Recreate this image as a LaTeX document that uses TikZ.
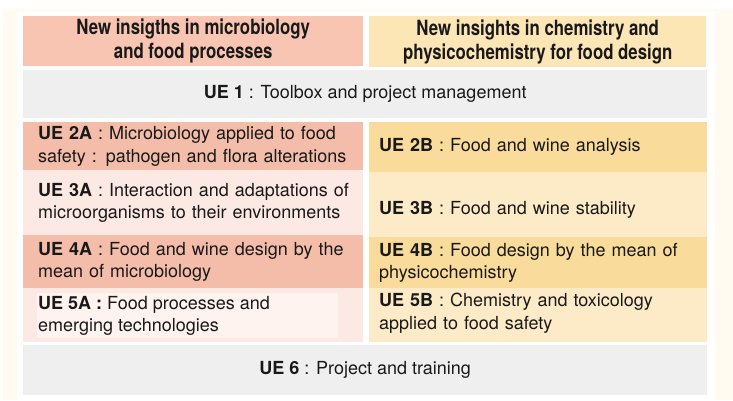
\documentclass[tikz,border=0pt]{standalone}
\usepackage{fontspec}
\setmainfont{TeX Gyre Heros}
\newfontfamily\headfont[FakeStretch=0.80]{TeX Gyre Heros}
\definecolor{cream}{RGB}{255,251,240}
\definecolor{salmonhead}{RGB}{247,197,178}
\definecolor{salmon}{RGB}{244,189,170}
\definecolor{pinklight}{RGB}{252,233,227}
\definecolor{pinkwhite}{RGB}{254,243,239}
\definecolor{sandhead}{RGB}{252,230,182}
\definecolor{sand}{RGB}{249,220,155}
\definecolor{sandlight}{RGB}{252,235,198}
\definecolor{greybox}{RGB}{239,239,239}
\newcommand\padleft[1]{\leftskip #1\relax}
\begin{document}
\begin{tikzpicture}[x=1pt,y=-1pt,
  every node/.style={font=\fontsize{18}{22.5}\selectfont, text=black!90},
  head/.style={anchor=north west, inner sep=0pt, align=center,
    font=\headfont\bfseries\fontsize{21}{24}\selectfont},
  cellA/.style={anchor=north west, inner sep=0pt,
    minimum width=340pt, text width=340pt, align=left,
    execute at begin node=\padleft{15pt}},
  cellB/.style={anchor=north west, inner sep=0pt,
    minimum width=338pt, text width=338pt, align=left,
    execute at begin node=\padleft{10pt}},
  wide/.style={anchor=north west, inner sep=0pt, minimum width=684pt, fill=greybox}]
\useasboundingbox (0,0) rectangle (733,400);
\fill[cream] (3,9) rectangle (733,400);
\fill[white] (17,12) rectangle (715,400);
% headings
\node[head, fill=salmonhead, minimum width=340pt, minimum height=50pt] (headA) at (23,16)
  {New insigths in microbiology\\and food processes};
\node[head, fill=sandhead, minimum width=337pt, minimum height=51pt] (headB) at (369,16)
  {New insights in chemistry and\\physicochemistry for food design};
\node[wide, minimum height=48pt] (ue1) at (23,70) {\textbf{UE 1} : Toolbox and project management};
% column A
\node[cellA, fill=salmon, minimum height=48pt] (ue2A) at (23,122)
  {\textbf{UE 2A} : Microbiology applied to food\\safety : pathogen and flora alterations};
\node[cellA, fill=pinklight, minimum height=65pt] (ue3A) at (23,170)
  {\textbf{UE 3A} : Interaction and adaptations of\\microorganisms to their environments};
\node[cellA, fill=salmon, minimum height=53pt] (ue4A) at (23,235)
  {\textbf{UE 4A} : Food and wine design by the\\mean of microbiology};
\node[cellA, fill=pinklight, minimum height=54pt] (ue5A) at (23,288) {};
\fill[pinkwhite] (37,293) rectangle (338,338);
\node[anchor=west, inner sep=0pt, align=left] (ue5Atext) at (38,316)
  {\textbf{UE 5A :} Food processes and\\emerging technologies};
% column B
\node[cellB, fill=sand, minimum height=50pt] (ue2B) at (369,122)
  {\textbf{UE 2B} : Food and wine analysis};
\node[cellB, fill=sandlight, minimum height=65pt] (ue3B) at (369,172)
  {\raisebox{-5pt}[\height][\depth]{\textbf{UE 3B} : Food and wine stability}};
\node[cellB, fill=sand, minimum height=51pt] (ue4B) at (369,237)
  {\textbf{UE 4B} : Food design by the mean of\\physicochemistry};
\node[cellB, fill=sandlight, minimum height=54pt] (ue5B) at (369,288)
  {\raisebox{2pt}[\height][\depth]{\textbf{UE 5B} : Chemistry and toxicology}\\
   \raisebox{2pt}[\height][\depth]{applied to food safety}};
\node[wide, minimum height=50pt] (ue6) at (23,345) {\textbf{UE 6} : Project and training};
\end{tikzpicture}
\end{document}
